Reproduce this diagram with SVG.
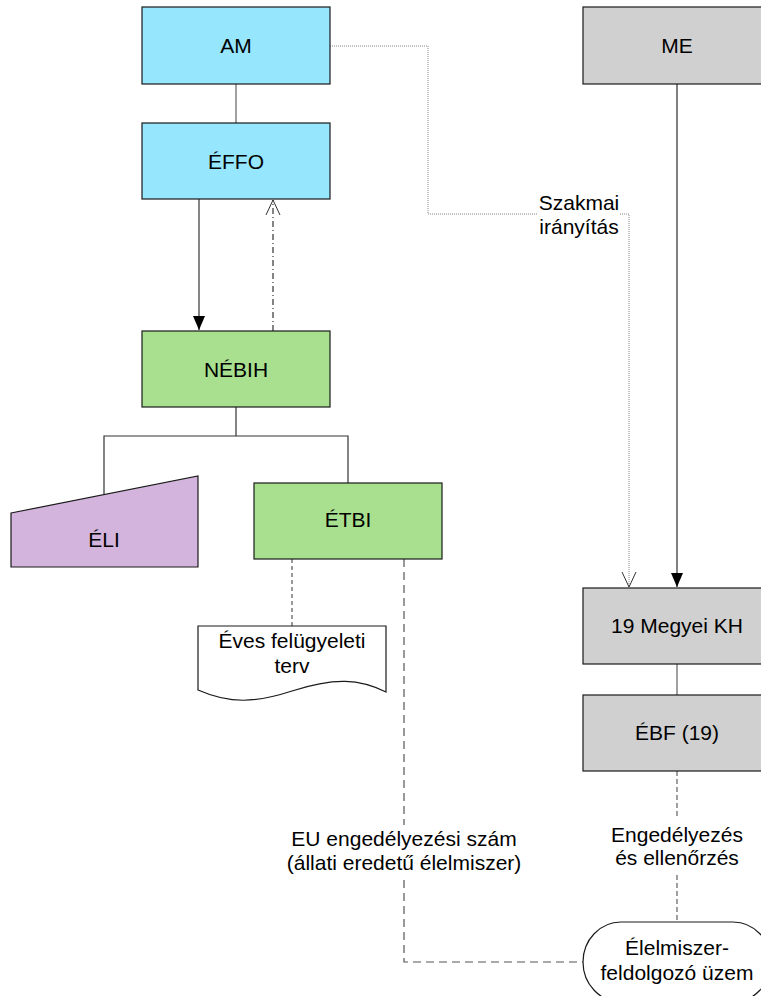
<svg xmlns="http://www.w3.org/2000/svg" width="761" height="996" viewBox="0 0 761 996">
<style>
text{font-family:"Liberation Sans",Arial,sans-serif;font-size:21px;fill:#000;text-anchor:middle}
.box{stroke:#1a1a1a;stroke-width:1.2}
.cyan{fill:#96E6FD}
.green{fill:#A9E08F}
.grey{fill:#D0D0D0}
.purple{fill:#D2B4DC}
.white{fill:#fff}
.ln{fill:none;stroke:#333;stroke-width:1.2}
.gl{fill:none;stroke:#808080;stroke-width:1.5}
</style>
<defs>
<marker id="fill" viewBox="0 0 14 12" refX="14" refY="6" markerWidth="14" markerHeight="12" markerUnits="userSpaceOnUse" orient="auto">
<path d="M0,0 L14,6 L0,12 Z" fill="#000"/>
</marker>
<marker id="open" viewBox="0 0 16 16" refX="15" refY="8" markerWidth="16" markerHeight="16" markerUnits="userSpaceOnUse" orient="auto">
<path d="M0,1 L15,8 L0,15" fill="none" stroke="#333" stroke-width="1"/>
</marker>
</defs>
<g id="connectors">
<line class="gl" x1="236" y1="84" x2="236" y2="123"/>
<line class="ln" x1="199" y1="199" x2="199" y2="330" marker-end="url(#fill)"/>
<line class="ln" x1="273" y1="331" x2="273" y2="200" stroke-dasharray="6,3,1,3" marker-end="url(#open)"/>
<path d="M330,46 H428 V214 H537 M620,214 H629 V587" fill="none" stroke="#888" stroke-width="1" stroke-dasharray="1,1" marker-end="url(#open)"/>
<line x1="677" y1="84" x2="677" y2="587" stroke="#808080" stroke-width="2" marker-end="url(#fill)"/>
<line class="gl" x1="677" y1="664" x2="677" y2="695"/>
<path class="ln" d="M236,407 V436 M104,494 V436 H348 V483"/>
<line x1="292" y1="559" x2="292" y2="626" stroke="#333" stroke-width="1" stroke-dasharray="4,3"/>
<path d="M404,559 V825 M404,880 V962 H583" fill="none" stroke="#555" stroke-width="1.2" stroke-dasharray="8,5"/>
<path d="M677,771 V818 M677,875 V922" fill="none" stroke="#808080" stroke-width="1.5" stroke-dasharray="5,3"/>
</g>
<g id="AM"><rect class="box cyan" x="142" y="7" width="188" height="77"/><text x="236" y="53">AM</text></g>
<g id="EFFO"><rect class="box cyan" x="142" y="123" width="188" height="76"/><text x="236" y="169">ÉFFO</text></g>
<g id="NEBIH"><rect class="box green" x="142" y="331" width="188" height="76"/><text x="236" y="377">NÉBIH</text></g>
<g id="ELI"><polygon class="box purple" points="11,513 198,476 198,567 11,567"/><text x="104" y="547">ÉLI</text></g>
<g id="ETBI"><rect class="box green" x="254" y="483" width="188" height="76"/><text x="348" y="527">ÉTBI</text></g>
<g id="EvesTerv"><path class="box white" d="M198,626 H386 V692 C360,679 335,677 292,691 C255,703 230,704 198,690 Z"/><text x="292" y="648">Éves felügyeleti</text><text x="292" y="673">terv</text></g>
<g id="ME"><rect class="box grey" x="583" y="7" width="188" height="77"/><text x="677" y="53">ME</text></g>
<g id="Label_Szakmai"><text x="579" y="210">Szakmai</text><text x="579" y="234">irányítás</text></g>
<g id="KH"><rect class="box grey" x="583" y="588" width="188" height="76"/><text x="677" y="633">19 Megyei KH</text></g>
<g id="EBF"><rect class="box grey" x="583" y="695" width="188" height="76"/><text x="677" y="740">ÉBF (19)</text></g>
<g id="Label_EU"><text x="404" y="846">EU engedélyezési szám</text><text x="404" y="870">(állati eredetű élelmiszer)</text></g>
<g id="Label_Eng"><text x="677" y="842">Engedélyezés</text><text x="677" y="865">és ellenőrzés</text></g>
<g id="Uzem"><rect class="box white" x="583" y="922" width="188" height="80" rx="38" ry="40"/><text x="677" y="955">Élelmiszer-</text><text x="677" y="980">feldolgozó üzem</text></g>
</svg>
